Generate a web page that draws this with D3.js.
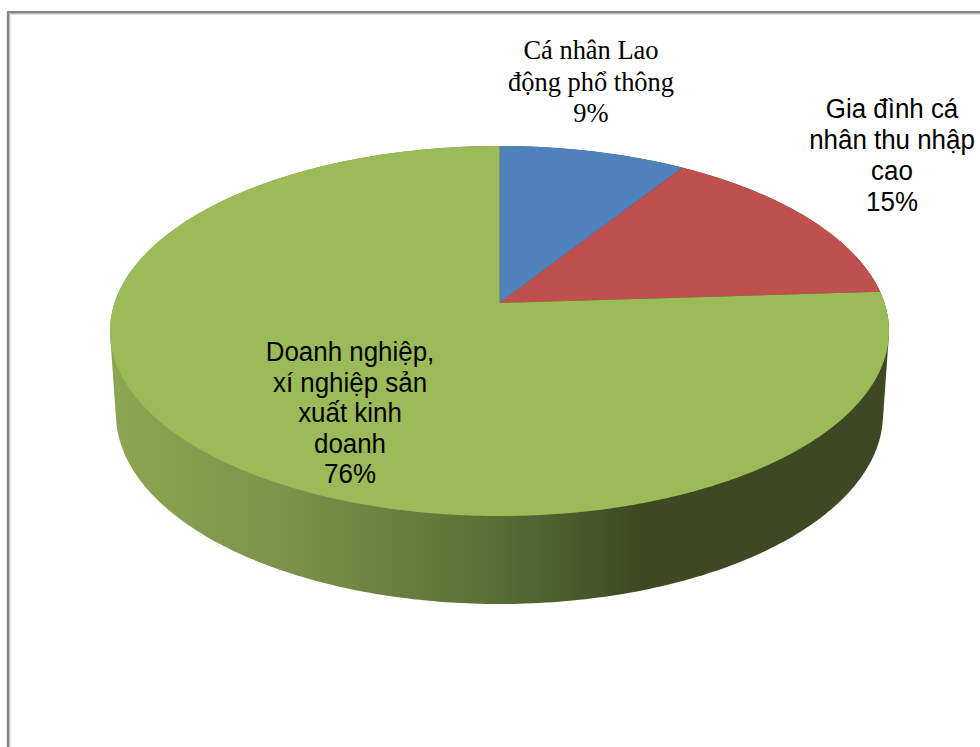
<!DOCTYPE html>
<html>
<head>
<meta charset="utf-8">
<style>
html, body { margin: 0; padding: 0; background: #fff; overflow: hidden; }
svg { display: block; }
</style>
<script src="https://cdn.jsdelivr.net/npm/d3@7/dist/d3.min.js"></script>
</head>
<body>
<script>
// Chart data
const categories = ["Cá nhân Lao động phổ thông", "Gia đình cá nhân thu nhập cao", "Doanh nghiệp, xí nghiệp sản xuất kinh doanh"];
const shares = [9, 15, 76];
const sliceColors = ["#4f81bd", "#c0504d", "#9bbb59"];

// Each label is broken into lines; the percentage is appended from the data
const labelLines = [
  ["Cá nhân Lao", "động phổ thông"],
  ["Gia đình cá", "nhân thu nhập", "cao"],
  ["Doanh nghiệp,", "xí nghiệp sản", "xuất kinh", "doanh"]
];
const labelStyles = [
  { x: 591, y: 59, step: 31.5, family: "'Liberation Serif', serif", size: 28, sx: 0.945 },
  { x: 892, y: 118, step: 31, family: "'Liberation Sans', Arial, sans-serif", size: 27, sx: 0.96 },
  { x: 350, y: 361, step: 30.5, family: "'Liberation Sans', Arial, sans-serif", size: 27, sx: 0.96 }
];

const W = 980, H = 747;
const svg = d3.select("body").append("svg").attr("width", W).attr("height", H);

// Tilted disc: the pie centre projects to an apex above the middle of the top ellipse
const apex = { x: 499.5, y: 303 };
const persp = { a: 385, b: 180.8, k: 0.1514 };
const project = t => {
  const u = Math.sin(t), v = Math.cos(t), d = 1 + persp.k * v;
  return [apex.x + persp.a * u / d, apex.y - persp.b * v / d];
};

const tau = Math.PI * 2;
const samples = d3.range(0, 361).map(d => d / 360 * tau);
const topRim = samples.map(project);

// Lower rim of the cylinder
const lowerRim = samples.map(t => [499.5 + 383.5 * Math.sin(t), 414 + 190 * Math.cos(t)]);
const wall = d3.polygonHull(topRim.concat(lowerRim));

// Shading runs across the wall from lit on the left to dark on the right
const defs = svg.append("defs");
const wallStops = [
  [118, "#8ca552"], [300, "#7a9049"], [400, "#6a7f3e"],
  [500, "#586c35"], [600, "#465428"], [640, "#3e4822"], [885, "#3e4822"]
];
const grad = defs.append("linearGradient").attr("id", "wallShade")
  .attr("gradientUnits", "userSpaceOnUse")
  .attr("x1", 118).attr("x2", 885).attr("y1", 0).attr("y2", 0);
const offset = d3.scaleLinear().domain([118, 885]).range([0, 1]);
grad.selectAll("stop").data(wallStops).join("stop")
  .attr("offset", d => offset(d[0]))
  .attr("stop-color", d => d[1]);

// Frame of the chart area, open past the right and bottom edges
const frame = svg.append("g");
frame.append("path").attr("d", `M9.8,${H}V14H${W}`).attr("fill", "none").attr("stroke", "#c4c4c4").attr("stroke-width", 1);
frame.append("path").attr("d", `M8,${H}V12.2H${W}`).attr("fill", "none").attr("stroke", "#868686").attr("stroke-width", 2.4);

const line = d3.line();
svg.append("path").attr("d", line(wall) + "Z").attr("fill", "url(#wallShade)");

// Slices, starting at twelve o'clock and going clockwise
const arcs = d3.pie().sort(null)(shares);
const sliceG = svg.append("g");
sliceG.selectAll("path").data(arcs).join("path")
  .attr("d", d => {
    const n = Math.max(2, Math.ceil((d.endAngle - d.startAngle) / tau * 720));
    const pts = d3.range(n + 1).map(i => project(d.startAngle + (d.endAngle - d.startAngle) * i / n));
    return line([[apex.x, apex.y], ...pts]) + "Z";
  })
  .attr("fill", (d, i) => sliceColors[i]);

// Data labels
const labels = svg.append("g").attr("fill", "#000").attr("text-anchor", "middle");
labels.selectAll("text").data(categories.flatMap((c, i) =>
  [...labelLines[i], shares[i] + "%"].map((t, j) => ({ t, i, j }))
)).join("text")
  .attr("transform", d => {
    const s = labelStyles[d.i];
    return `translate(${s.x},${s.y + d.j * s.step}) scale(${s.sx},1)`;
  })
  .attr("font-family", d => labelStyles[d.i].family)
  .attr("font-size", d => labelStyles[d.i].size)
  .text(d => d.t);
</script>
</body>
</html>
